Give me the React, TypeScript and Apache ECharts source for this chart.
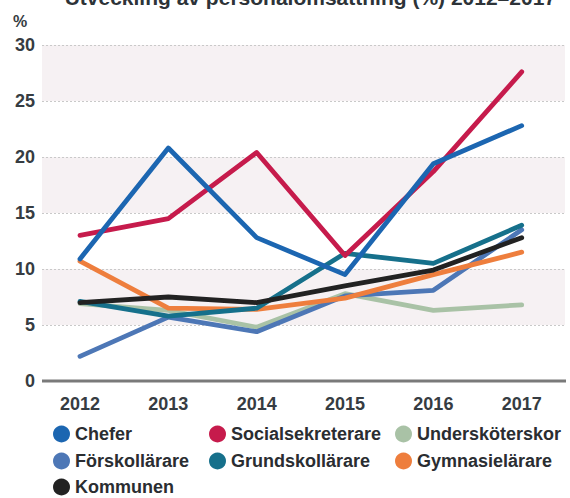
import React, { useEffect, useRef } from "react";
import * as echarts from "echarts";

const years = [2012, 2013, 2014, 2015, 2016, 2017];
const chefer = [10.9, 20.8, 12.8, 9.5, 19.4, 22.8];
const socialsekreterare = [13.0, 14.5, 20.4, 11.2, 18.7, 27.6];
const underskoterskor = [6.9, 6.3, 4.8, 7.8, 6.3, 6.8];
const forskollarare = [2.2, 5.7, 4.4, 7.6, 8.1, 13.5];
const grundskollarare = [7.1, 5.8, 6.5, 11.4, 10.5, 13.9];
const gymnasielarare = [10.7, 6.5, 6.4, 7.4, 9.5, 11.5];
const kommunen = [7.0, 7.5, 7.0, 8.5, 9.9, 12.8];
const yTicks = [0, 5, 10, 15, 20, 25, 30];

const seriesDefs = [
  { name: "Chefer", data: chefer, color: "#1c66b1", legend: [53, 425] },
  { name: "Socialsekreterare", data: socialsekreterare, color: "#c61b4c", legend: [209, 425] },
  { name: "Undersköterskor", data: underskoterskor, color: "#a9c2a6", legend: [395, 425] },
  { name: "Förskollärare", data: forskollarare, color: "#4d77b6", legend: [53, 452] },
  { name: "Grundskollärare", data: grundskollarare, color: "#16708b", legend: [209, 452] },
  { name: "Gymnasielärare", data: gymnasielarare, color: "#ee7e3d", legend: [395, 452] },
  { name: "Kommunen", data: kommunen, color: "#222222", legend: [53, 478] },
];

const drawOrder = [
  "Undersköterskor",
  "Förskollärare",
  "Gymnasielärare",
  "Grundskollärare",
  "Kommunen",
  "Socialsekreterare",
  "Chefer",
];

export default function App() {
  const ref = useRef<HTMLDivElement>(null);
  useEffect(() => {
    if (!ref.current) return;
    const chart = echarts.init(ref.current, undefined, { renderer: "svg" });
    const font = "Liberation Sans, Arial, sans-serif";
    const ordered = drawOrder.map((n) => seriesDefs.find((s) => s.name === n)!);
    chart.setOption({
      animation: false,
      backgroundColor: "#ffffff",
      grid: { left: 42, right: 5, top: 45, bottom: 117 },
      xAxis: {
        type: "value",
        min: 2011.57,
        max: 2017.49,
        axisLine: { show: false },
        axisTick: { show: false },
        splitLine: { show: false },
        axisLabel: {
          customValues: years,
          formatter: (v: number) => String(v),
          color: "#363c42",
          fontWeight: "bold",
          fontSize: 18,
          fontFamily: font,
          margin: 14,
        },
      },
      yAxis: {
        type: "value",
        min: 0,
        max: 30,
        interval: 5,
        axisLine: { show: false },
        axisTick: { show: false },
        axisLabel: {
          customValues: yTicks,
          color: "#363c42",
          fontWeight: "bold",
          fontSize: 18,
          fontFamily: font,
          margin: 7,
        },
        splitLine: {
          show: true,
          lineStyle: { color: "#c9c9c9", type: [2, 2], width: 1 },
        },
        splitArea: {
          show: true,
          areaStyle: { color: ["#ffffff", "#f6f1f3"] },
        },
      },
      legend: seriesDefs.map((s) => ({
        data: [{ name: s.name, icon: "circle" }],
        left: s.legend[0],
        top: s.legend[1],
        itemWidth: 17,
        itemHeight: 17,
        itemGap: 0,
        padding: 0,
        selectedMode: false,
        textStyle: { color: "#2a2d31", fontSize: 18, fontWeight: "bold", fontFamily: font },
      })),
      graphic: [
        {
          type: "text",
          right: 14,
          top: -13,
          style: {
            text: "Utveckling av personalomsättning (%) 2012–2017",
            fontSize: 21,
            fontWeight: "bold",
            fontFamily: font,
            fill: "#2d3338",
          },
        },
        {
          type: "text",
          left: 13,
          top: 13,
          style: {
            text: "%",
            fontSize: 16,
            fontWeight: "bold",
            fontFamily: font,
            fill: "#363c42",
          },
        },
        {
          type: "line",
          shape: { x1: 42, y1: 381, x2: 566, y2: 381 },
          style: { stroke: "#7a7a7a", lineWidth: 3 },
          z: 5,
        },
      ],
      series: ordered.map((s) => ({
        name: s.name,
        type: "line",
        data: years.map((y, i) => [y, s.data[i]]),
        showSymbol: false,
        symbol: "none",
        lineStyle: { color: s.color, width: 4.8, cap: "round", join: "round" },
        itemStyle: { color: s.color },
        z: 10,
      })),
    });
    return () => chart.dispose();
  }, []);
  return <div ref={ref} style={{ width: 570, height: 498, position: "absolute", left: 0, top: 0 }} />;
}
